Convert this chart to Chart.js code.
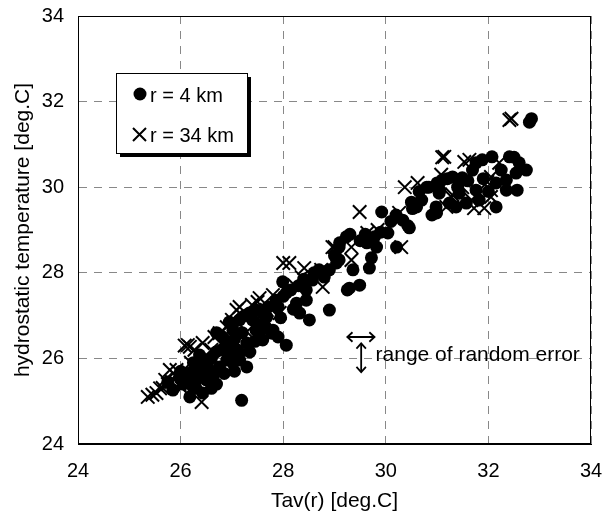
<!DOCTYPE html>
<html>
<head>
<meta charset="utf-8">
<script src="https://cdn.jsdelivr.net/npm/chart.js@4/dist/chart.umd.min.js"></script>
<style>
  html, body { margin: 0; padding: 0; background: #fff; }
  #wrap { width: 606px; height: 518px; }
</style>
</head>
<body>
<div id="wrap"><canvas id="c" width="606" height="518"></canvas></div>
<script>
// r = 4 km (filled circles)
const r4km = [
  [25.75,25.45],[25.85,25.26],[25.98,25.57],[26.05,25.4],[26.18,25.1],[26.18,25.66],[26.24,25.33],
  [26.31,25.5],[26.37,25.73],[26.37,26.08],[26.43,25.19],[26.5,25.5],[26.5,25.96],[26.63,25.57],
  [26.69,26.15],[26.76,25.8],[26.82,26.5],[26.9,25.96],[26.9,26.3],[27.02,25.89],[27.02,26.66],
  [27.15,26.13],[27.15,26.9],[27.15,25.96],[27.19,25.02],[27.29,25.8],[27.29,26.36],[27.34,27.06],
  [27.47,27.13],[27.54,26.59],[27.6,26.43],[27.47,26.66],[27.68,26.97],[27.78,26.59],[27.8,26.66],
  [27.86,27.36],[27.99,27.79],[28.06,27.53],[28.06,26.31],[28.26,27.29],[28.32,27.06],[28.45,27.36],
  [28.51,26.9],[28.57,27.83],[28.7,28.07],[28.9,28.07],[28.9,27.13],[29.04,28.23],[29.09,28.3],
  [29.23,28.84],[29.25,27.6],[29.09,28.6],[29.36,28.07],[29.49,27.71],[29.29,27.64],[29.68,28.11],
  [29.72,28.35],[29.63,28.7],[29.78,28.84],[29.82,28.6],[29.92,29.42],[30.04,28.93],[30.21,28.6],
  [30.33,29.23],[30.46,29.05],[30.6,29.54],[30.8,30.0],[30.99,29.4],[31.05,29.93],[30.52,29.5],
  [30.9,29.35],[30.43,29.1],[30.84,30.0],[31.04,29.86],[31.1,30.17],[31.3,30.24],[31.49,30.22],
  [31.69,30.4],[31.76,30.57],[31.88,30.64],[32.07,30.71],[32.41,30.71],[32.6,30.57],[32.74,30.4],
  [32.54,30.33],[32.35,30.17],[32.15,30.1],[32.56,29.93],[32.35,29.93],[32.15,29.54],[31.76,29.93],
  [31.43,29.86],[31.24,29.63],[31.57,29.63],[31.82,29.7],[31.37,29.54],[30.98,29.54],[32.84,31.6],
  [32.8,31.52],[26.0,25.7],[26.1,25.5],[26.25,25.9],[26.4,25.6],[26.55,25.75],[26.6,26.0],[26.7,25.4],
  [26.8,26.2],[26.95,26.1],[27.05,26.45],[27.1,26.2],[27.2,26.6],[27.25,27.0],[27.4,26.9],[27.5,26.8],
  [27.6,27.05],[27.7,27.2],[27.9,27.2],[28.0,27.45],[28.15,27.6],[28.3,27.7],[28.4,27.85],[28.6,28.0],
  [28.8,27.9],[29.0,28.4],[29.1,28.7],[29.3,28.9],[29.5,28.75],[29.6,28.9],[29.9,28.95],[30.1,29.2],
  [30.2,29.35],[30.5,29.65],[30.65,29.9],[30.7,29.7],[31.0,30.1],[31.2,30.2],[31.4,30.0],[31.6,30.15],
  [31.9,30.2],[32.0,29.9],[32.25,30.4],[32.5,30.7],
  [26.3,25.3],[26.6,25.3],[26.85,25.65],[27.05,25.7],[26.45,25.85],[27.35,26.15],[27.45,26.4],
  [27.65,26.75],[27.95,26.95],[28.2,27.15],[27.9,26.5],[28.45,27.6],[26.95,26.85],[26.7,26.6]
];

// r = 34 km (crosses)
const r34km = [
  [25.36,25.1],[25.45,25.15],[25.53,25.19],[25.6,25.3],[25.65,25.31],[25.75,25.4],[25.83,25.45],
  [25.92,25.73],[25.98,25.38],[26.02,25.31],[25.79,25.73],[26.08,26.3],[26.14,26.31],[26.18,26.27],
  [26.27,26.2],[26.41,24.98],[26.43,26.36],[26.63,25.73],[26.66,26.5],[26.76,26.59],[26.9,26.73],
  [27.09,27.13],[27.15,27.2],[27.29,26.62],[27.39,27.25],[27.5,27.32],[27.54,27.41],[27.68,27.13],
  [27.8,27.48],[27.93,27.06],[27.78,27.13],[28.0,28.23],[28.12,28.23],[28.22,27.71],[28.36,27.9],
  [28.41,28.11],[28.74,28.07],[28.77,27.67],[28.96,28.6],[29.0,28.6],[29.33,28.6],[29.33,28.3],
  [29.49,29.42],[29.64,28.93],[29.84,29.0],[30.26,29.4],[30.3,28.6],[30.37,30.0],[30.62,30.1],
  [31.1,30.7],[31.08,30.29],[31.14,30.71],[31.28,29.77],[31.18,29.54],[31.3,29.82],[31.49,30.0],
  [31.53,30.59],[31.63,30.64],[31.67,29.7],[31.72,29.51],[31.92,29.51],[31.98,30.12],[32.05,30.24],
  [32.05,29.93],[32.05,29.77],[32.21,30.57],[32.41,31.57],[32.45,31.6],[26.5,26.0],[26.6,26.2],
  [27.0,26.9],[27.2,27.0],[26.2,25.9],[25.9,25.6],[25.7,25.5],[26.3,25.8]
];

const xTicks = [24, 26, 28, 30, 32, 34];
const yTicks = [24, 26, 28, 30, 32, 34];
const seriesNames = ['r = 4 km', 'r = 34 km'];
const noteText = 'range of random error';

const FONT = '"Liberation Sans", Arial, sans-serif';

function toPts(arr) {
  return arr.map(p => ({ x: p[0], y: p[1] }));
}

function arrowHead(ctx, x, y, ang) {
  const L = 7;
  ctx.beginPath();
  ctx.moveTo(x + L * Math.cos(ang + 2.4), y + L * Math.sin(ang + 2.4));
  ctx.lineTo(x, y);
  ctx.lineTo(x + L * Math.cos(ang - 2.4), y + L * Math.sin(ang - 2.4));
  ctx.stroke();
}

const extras = {
  id: 'extras',
  afterDraw(chart) {
    const { ctx, chartArea: a, scales } = chart;
    ctx.save();
    // plot frame
    ctx.strokeStyle = '#000';
    ctx.lineWidth = 1;
    ctx.strokeRect(a.left + 0.5, a.top + 0.5, a.right - a.left - 1, a.bottom - a.top - 1);

    // legend box with shadow
    const bx = a.left + 38, by = a.top + 57, bw = 131, bh = 80;
    ctx.fillStyle = '#000';
    ctx.fillRect(bx + 4, by + 4, bw, bh);
    ctx.fillStyle = '#fff';
    ctx.fillRect(bx, by, bw, bh);
    ctx.strokeStyle = '#000';
    ctx.lineWidth = 1;
    ctx.strokeRect(bx + 0.5, by + 0.5, bw, bh);

    ctx.font = '20px ' + FONT;
    ctx.textBaseline = 'middle';
    ctx.textAlign = 'left';
    ctx.fillStyle = '#000';
    // circle entry
    ctx.beginPath();
    ctx.arc(bx + 24, by + 21, 6.5, 0, Math.PI * 2);
    ctx.fill();
    ctx.fillText(seriesNames[0], bx + 34, by + 23);
    // cross entry
    ctx.lineWidth = 2;
    ctx.beginPath();
    ctx.moveTo(bx + 17, by + 55); ctx.lineTo(bx + 30, by + 68);
    ctx.moveTo(bx + 30, by + 55); ctx.lineTo(bx + 17, by + 68);
    ctx.stroke();
    ctx.fillText(seriesNames[1], bx + 34, by + 63);

    // random error annotation
    const xs = scales.x, ys = scales.y;
    const hx1 = xs.getPixelForValue(29.25), hx2 = xs.getPixelForValue(29.78);
    const hy = ys.getPixelForValue(26.5);
    const vx = xs.getPixelForValue(29.52);
    const vy1 = ys.getPixelForValue(26.35), vy2 = ys.getPixelForValue(25.68);
    ctx.lineWidth = 1.8;
    ctx.beginPath();
    ctx.moveTo(hx1, hy); ctx.lineTo(hx2, hy);
    ctx.moveTo(vx, vy1); ctx.lineTo(vx, vy2);
    ctx.stroke();
    arrowHead(ctx, hx1, hy, Math.PI);
    arrowHead(ctx, hx2, hy, 0);
    arrowHead(ctx, vx, vy1, -Math.PI / 2);
    arrowHead(ctx, vx, vy2, Math.PI / 2);
    ctx.font = '21px ' + FONT;
    ctx.fillText(noteText, xs.getPixelForValue(29.8), ys.getPixelForValue(26.07));
    ctx.restore();
  }
};

new Chart(document.getElementById('c'), {
  type: 'scatter',
  data: {
    datasets: [
      {
        label: seriesNames[0],
        data: toPts(r4km),
        pointStyle: 'circle',
        pointRadius: 6.5,
        backgroundColor: '#000',
        borderColor: '#000',
        borderWidth: 0,
      },
      {
        label: seriesNames[1],
        data: toPts(r34km),
        pointStyle: 'crossRot',
        pointRadius: 9.5,
        borderColor: '#000',
        borderWidth: 2,
      },
    ],
  },
  options: {
    responsive: false,
    animation: false,
    events: [],
    layout: { padding: { left: 0, right: 15, top: 16, bottom: 0 } },
    plugins: { legend: { display: false }, tooltip: { enabled: false } },
    scales: {
      x: {
        type: 'linear',
        min: 24,
        max: 34,
        afterBuildTicks: s => { s.ticks = xTicks.map(v => ({ value: v })); },
        afterFit: s => { s.height = 74; s.paddingLeft = 0; s.paddingRight = 0; },
        ticks: { color: '#000', font: { family: FONT, size: 20 }, padding: 15, maxRotation: 0 },
        grid: { color: '#888', drawTicks: false, lineWidth: 1 },
        border: { display: true, color: '#000', dash: [8, 7] },
        title: { display: true, text: 'Tav(r) [deg.C]', color: '#000', font: { family: FONT, size: 21 }, padding: { top: 2 } },
      },
      y: {
        type: 'linear',
        min: 24,
        max: 34,
        afterBuildTicks: s => { s.ticks = yTicks.map(v => ({ value: v })); },
        afterFit: s => { s.width = 78; s.paddingTop = 0; s.paddingBottom = 0; },
        ticks: { color: '#000', font: { family: FONT, size: 20 }, padding: 14 },
        grid: { color: '#888', drawTicks: false, lineWidth: 1 },
        border: { display: true, color: '#000', dash: [8, 7] },
        title: { display: true, text: 'hydrostatic temperature [deg.C]', color: '#000', font: { family: FONT, size: 21 }, padding: { top: 11, bottom: 0 } },
      },
    },
  },
  plugins: [extras],
});
</script>
</body>
</html>
